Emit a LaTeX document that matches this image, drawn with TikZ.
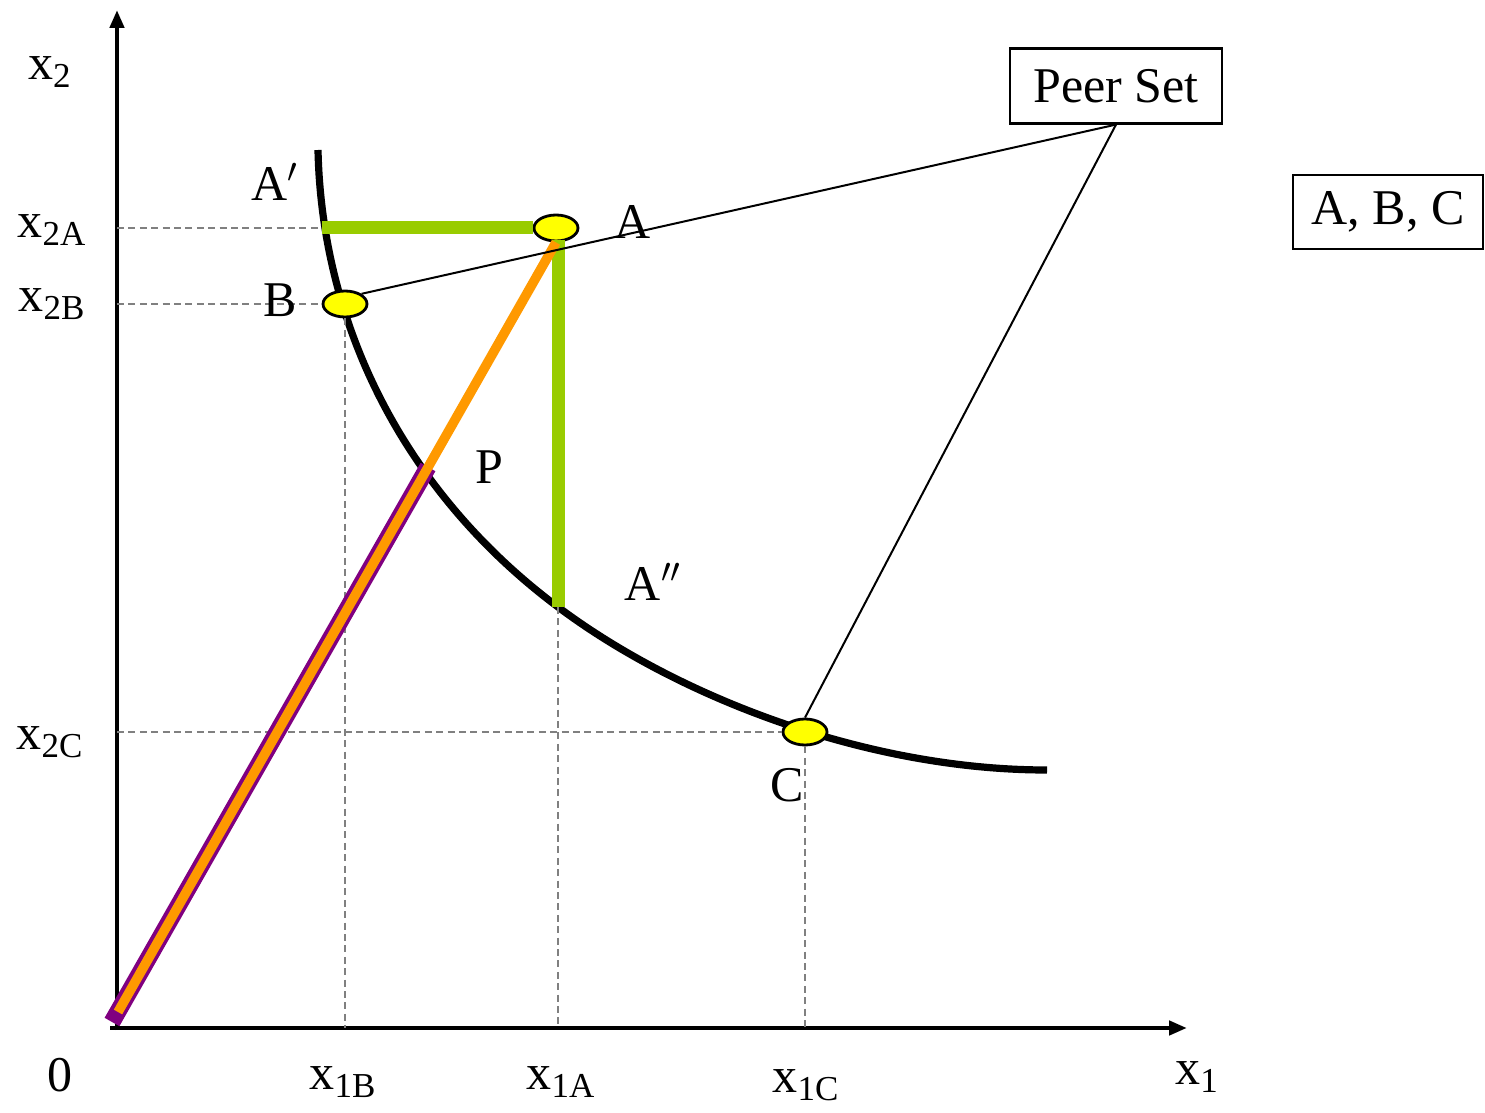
\documentclass[tikz,border=0pt]{standalone}
\usepackage{fontspec}
\setmainfont{Liberation Serif}
\usetikzlibrary{arrows.meta,shapes.geometric,positioning}
\definecolor{leaf}{HTML}{99CC00}
\definecolor{amber}{HTML}{FF9900}
\definecolor{plum}{HTML}{800080}
\definecolor{guide}{HTML}{808080}
\definecolor{lemon}{HTML}{FFFF00}
\tikzset{
  axis/.style={
    line width=2.2pt,
    -{Triangle[length=9pt,width=7pt]}
  },
  isoquant/.style={
    line width=3.6pt
  },
  guideline/.style={
    draw=guide,
    line width=1.1pt,
    dash pattern=on 3.5pt off 2.2pt
  },
  firm/.style={
    ellipse,
    draw=black,
    fill=lemon,
    line width=1.4pt,
    minimum width=22pt,
    minimum height=13pt,
    inner sep=0pt
  },
  tag/.style={
    draw=black,
    line width=1.1pt,
    inner sep=0pt,
    font=\fontsize{25}{29}\selectfont
  },
  lbl/.style={
    inner sep=0pt,
    font=\fontsize{25}{29}\selectfont
  },
  slack/.style={
    draw=leaf,
    line width=6.5pt
  },
  ray/.style={
    draw=amber,
    line width=4.8pt
  },
  frontier/.style={
    draw=plum,
    line width=8.5pt
  },
  link/.style={
    draw=black,
    line width=1pt
  }
}
\newcommand{\sub}[2]{#1\textsubscript{#2}}

\begin{document}
\begin{tikzpicture}[x=0.5pt,y=-0.5pt]
  \useasboundingbox (0,0) rectangle (1485,1113);

  % axes
  \coordinate (O) at (117,1030);
  \coordinate (ytop) at (117,10);
  \coordinate (xend) at (1187,1028);
  \draw[axis] (O) -- (ytop);
  \draw[axis] (110,1028) -- (xend);

  % isoquant
  \draw[isoquant] (318,150) .. controls (322,330) and (408,495) .. (558,607)
    .. controls (678,697) and (867,770) .. (1047,770);

  % observed units
  \node[firm] (A) at (556,228) {};
  \node[firm] (B) at (345,304) {};
  \node[firm] (C) at (805,732) {};
  \coordinate (Aprime) at (322,228);
  \coordinate (Adprime) at (558,607);
  \coordinate (Pstart) at (112,1022);
  \coordinate (Pend) at (428,467);
  \coordinate (Rstart) at (118,1012);

  % guides to the axes
  \draw[guideline] (117,228) -- (Aprime);
  \draw[guideline] (117,304) -- (B.west);
  \draw[guideline] (117,732) -- (C.west);
  \draw[guideline] (B.south) -- (345,1028);
  \draw[guideline] (Adprime) -- (558,1028);
  \draw[guideline] (C.south) -- (805,1028);

  % slacks and rays
  \draw[slack] (Aprime) -- (A.west);
  \draw[slack] (558,240) -- (Adprime);
  \draw[frontier] (Pstart) -- (Pend);
  \draw[ray] (Rstart) -- (A.south);

  % peer set boxes
  \node[tag, minimum width=106pt, minimum height=37.5pt] (peer) at (1116,86) {Peer Set};
  \node[tag, minimum width=95pt, minimum height=37pt] (abc) at (1388,212) {A, B, C};
  \draw[link] (peer.south) -- (B.north east);
  \draw[link] (peer.south) -- (C.north);

  % labels
  \node[lbl] (lx2) at (50,72) {\sub{x}{2}};
  \node[lbl] (lx2A) at (52,230) {\sub{x}{2A}};
  \node[lbl] (lx2B) at (52,304) {\sub{x}{2B}};
  \node[lbl] (lx2C) at (50,742) {\sub{x}{2C}};
  \node[lbl] (lzero) at (60,1075) {0};
  \node[lbl] (lx1B) at (343,1082) {\sub{x}{1B}};
  \node[lbl] (lx1A) at (561,1082) {\sub{x}{1A}};
  \node[lbl] (lx1C) at (806,1085) {\sub{x}{1C}};
  \node[lbl] (lx1) at (1197,1077) {\sub{x}{1}};
  \node[lbl] (lAp) at (275,182) {A$'$};
  \node[lbl] (lA) at (633,222) {A};
  \node[lbl] (lB) at (280,300) {B};
  \node[lbl] (lP) at (489,467) {P};
  \node[lbl] (lApp) at (653,582) {A$''$};
  \node[lbl] (lC) at (787,785) {C};
\end{tikzpicture}
\end{document}
